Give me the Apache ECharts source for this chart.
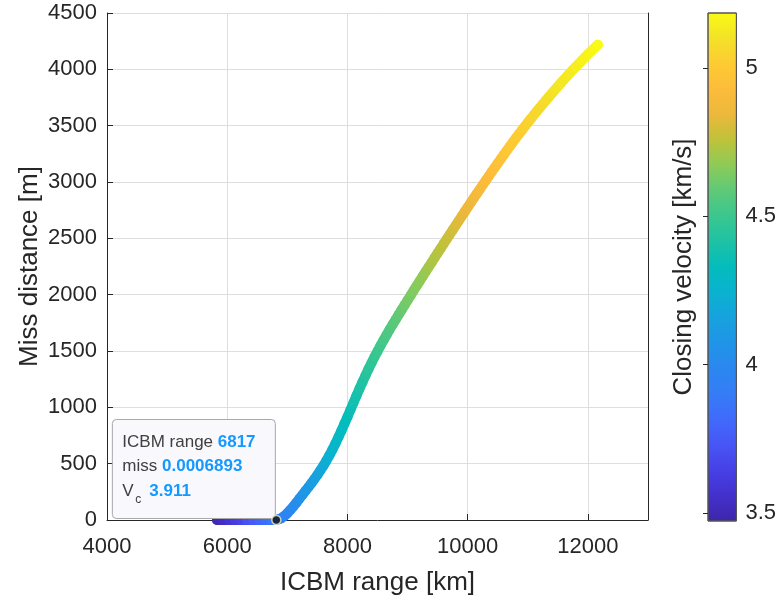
<!DOCTYPE html>
<html><head><meta charset="utf-8">
<script src="https://cdn.jsdelivr.net/npm/echarts@6/dist/echarts.min.js"></script>
<style>html,body{margin:0;padding:0;background:#fff}#c{width:779px;height:601px}</style>
</head><body><div id="c"></div>
<script>
// ICBM range [km]
const rangeKm = [5830,5930,6030,6130,6230,6330,6430,6530,6630,6730,6817,
6850,6900,6950,7000,7050,7100,7150,7200,7250,7300,7350,7400,7450,7500,7550,7600,7650,7700,7750,7800,7850,7900,7950,
8000,8050,8100,8150,8200,8250,8300,8350,8400,8450,8500,8550,8600,8650,8700,8750,8800,8850,8900,8950,
9000,9050,9100,9150,9200,9250,9300,9350,9400,9450,9500,9550,9600,9650,9700,9750,9800,9850,9900,9950,
10000,10050,10100,10150,10200,10250,10300,10350,10400,10450,10500,10550,10600,10650,10700,10750,10800,10850,10900,10950,
11000,11050,11100,11150,11200,11250,11300,11350,11400,11450,11500,11550,11600,11650,11700,11750,11800,11850,11900,11950,
12000,12050,12100,12150,12166];
// Miss distance [m]
const missM = [0,0,0,0,0,0,0,0,0,0,0.0006893,
4,15,35,60,89,120,153,188,222,257,291,326,363,400,441,482,527,574,625,678,735,793,854,
914,977,1040,1103,1164,1224,1283,1339,1394,1447,1497,1547,1595,1642,1688,1733,1777,1821,1864,1907,
1950,1992,2035,2077,2119,2161,2203,2245,2286,2327,2369,2410,2451,2492,2533,2573,2614,2654,2695,2735,
2775,2815,2855,2894,2934,2973,3012,3051,3090,3128,3166,3204,3241,3278,3315,3352,3388,3423,3458,3493,
3527,3561,3594,3627,3659,3691,3723,3755,3786,3817,3848,3878,3908,3937,3966,3995,4023,4051,4079,4106,
4133,4159,4185,4210,4218];
// Closing velocity [km/s]
const closingV = [3.50,3.54,3.58,3.62,3.66,3.71,3.75,3.79,3.83,3.87,3.911,
3.92,3.94,3.955,3.97,3.99,4.01,4.03,4.05,4.07,4.09,4.11,4.13,4.145,4.16,4.18,4.20,4.22,4.24,4.26,4.28,4.30,4.31,4.33,
4.34,4.36,4.38,4.39,4.41,4.42,4.44,4.455,4.47,4.485,4.50,4.515,4.53,4.54,4.555,4.57,4.58,4.59,4.605,4.62,
4.63,4.64,4.65,4.66,4.67,4.68,4.695,4.71,4.72,4.73,4.74,4.75,4.76,4.77,4.78,4.795,4.81,4.82,4.83,4.84,
4.85,4.86,4.875,4.89,4.90,4.91,4.92,4.93,4.94,4.95,4.96,4.97,4.98,4.99,5.0,5.005,5.01,5.02,5.025,5.03,
5.04,5.045,5.055,5.06,5.07,5.075,5.085,5.09,5.10,5.105,5.11,5.115,5.12,5.125,5.13,5.135,5.14,5.145,5.15,5.155,
5.16,5.165,5.17,5.175,5.18];

const cbTicks = [3.5, 4, 4.5, 5];
const cbMin = 3.4727, cbMax = 5.185;
const tipRange = 6817, tipMiss = 0.0006893, tipVc = 3.911;
const tipLabels = ['ICBM range ', 'miss ', 'V', 'c'];
const parula = ['#3e26a8','#4330cc','#4640e6','#4855f5','#406afb','#357cf7','#2b87f0','#2094e8','#17a2de','#0ab2d0',
'#04bcbd','#1ec2a5','#3ac78f','#5ec977','#8dcb58','#bfc23a','#ecb83c','#fdbc3b','#fdcb33','#f3e227','#f9fb15'];

const FONT = "'Liberation Sans', Arial, Helvetica, sans-serif";
const TXT = '#262626';
const GRIDC = '#dedede';

const chart = echarts.init(document.getElementById('c'), null, {renderer: 'canvas'});
const pts = rangeKm.map((x, i) => [x, missM[i], closingV[i]]);
const gradStops = parula.map((c, i) => ({offset: 1 - i / (parula.length - 1), color: c})).reverse();
const plain = v => String(v);

chart.setOption({
  backgroundColor: '#fff',
  animation: false,
  textStyle: {fontFamily: FONT},
  grid: [
    {left: 107, right: 131, top: 13, bottom: 81},
    {left: 708, width: 30, top: 13, bottom: 80}
  ],
  visualMap: {
    type: 'continuous', show: false, seriesIndex: 0, dimension: 2,
    min: cbMin, max: cbMax, inRange: {color: parula}
  },
  xAxis: [
    {
      gridIndex: 0, type: 'value', min: 4000, max: 13000, interval: 2000,
      axisLine: {show: true, onZero: false, lineStyle: {color: TXT, width: 1}},
      axisTick: {show: true, inside: true, length: 6, lineStyle: {color: TXT}},
      axisLabel: {fontSize: 22, color: TXT, margin: 16, fontFamily: FONT, showMaxLabel: false, formatter: plain},
      splitLine: {show: true, lineStyle: {color: GRIDC, width: 1}},
      name: 'ICBM range [km]', nameLocation: 'middle', nameGap: 50, nameMoveOverlap: false,
      nameTextStyle: {fontSize: 26, color: TXT, fontFamily: FONT}
    },
    {gridIndex: 1, type: 'value', min: 0, max: 1, show: false}
  ],
  yAxis: [
    {
      gridIndex: 0, type: 'value', min: 0, max: 4500, interval: 500,
      axisLine: {show: true, onZero: false, lineStyle: {color: TXT, width: 1}},
      axisTick: {show: true, inside: true, length: 6, lineStyle: {color: TXT}},
      axisLabel: {fontSize: 22, color: TXT, margin: 10, fontFamily: FONT, formatter: plain},
      splitLine: {show: true, lineStyle: {color: GRIDC, width: 1}},
      name: 'Miss distance [m]', nameLocation: 'middle', nameGap: 64, nameMoveOverlap: false,
      nameTextStyle: {fontSize: 26, color: TXT, fontFamily: FONT}
    },
    {
      gridIndex: 1, type: 'value', min: cbMin, max: cbMax, position: 'right', z: 10,
      axisLine: {show: false},
      axisTick: {show: true, inside: true, length: 5, customValues: cbTicks, lineStyle: {color: TXT}},
      axisLabel: {show: true, customValues: cbTicks, fontSize: 22, color: TXT, margin: 9, fontFamily: FONT,
        formatter: plain},
      splitLine: {show: false}
    },
    {
      gridIndex: 0, type: 'value', min: 0, max: 4500, interval: 500, position: 'right',
      axisLine: {show: true, onZero: false, lineStyle: {color: TXT, width: 1}},
      axisTick: {show: false}, axisLabel: {show: false}, splitLine: {show: false}
    },
    {
      gridIndex: 1, type: 'value', min: cbMin, max: cbMax, position: 'left',
      axisLine: {show: false}, axisTick: {show: false}, axisLabel: {show: false}, splitLine: {show: false},
      name: 'Closing velocity [km/s]', nameLocation: 'middle', nameGap: 11, nameMoveOverlap: false,
      nameTextStyle: {fontSize: 26, color: TXT, fontFamily: FONT}
    }
  ],
  series: [
    {
      type: 'scatter', xAxisIndex: 0, yAxisIndex: 0, data: pts,
      symbol: 'circle', symbolSize: 10, clip: false, z: 3,
      itemStyle: {opacity: 1}, emphasis: {disabled: true}
    },
    {
      type: 'scatter', xAxisIndex: 0, yAxisIndex: 0, data: [[tipRange, tipMiss]],
      symbol: 'circle', symbolSize: 9, clip: false, z: 100,
      itemStyle: {color: '#111', borderColor: '#f3efc8', borderWidth: 1.5}
    },
    {
      type: 'custom', xAxisIndex: 1, yAxisIndex: 1, data: [[0, cbMin]], z: 2,
      renderItem: function (params, api) {
        const a = api.coord([0, cbMax]);
        const b = api.coord([1, cbMin]);
        return {
          type: 'rect',
          shape: {x: a[0], y: a[1], width: b[0] - a[0], height: b[1] - a[1]},
          style: {fill: new echarts.graphic.LinearGradient(0, 0, 0, 1, gradStops), stroke: '#555', lineWidth: 1}
        };
      }
    }
  ]
});

// continuous band beneath the markers, coloured by the same colormap
const pxs = pts.map(d => chart.convertToPixel({gridIndex: 0}, [d[0], d[1]])[0]);
const x0 = pxs[0], x1 = pxs[pxs.length - 1];
const bandStops = pts.map((d, i) => ({
  offset: (pxs[i] - x0) / (x1 - x0),
  color: echarts.color.lerp((d[2] - cbMin) / (cbMax - cbMin), parula)
}));

// datatip box
const p = chart.convertToPixel({gridIndex: 0}, [tipRange, tipMiss]);
const bx = p[0] - 164, by = p[1] - 100.5;
const KEYC = '#404040', VALC = '#1499ff';
const opt2 = chart.getOption();
const seriesNext = opt2.series.slice();
seriesNext.push({
  type: 'line', xAxisIndex: 0, yAxisIndex: 0, data: pts.map(d => [d[0], d[1]]),
  showSymbol: false, symbol: 'none', silent: true, clip: false, z: 2.5, smooth: false,
  lineStyle: {width: 10, cap: 'round', join: 'round',
    color: new echarts.graphic.LinearGradient(x0, 0, x1, 0, bandStops, true)}
});
chart.setOption({
  series: seriesNext,
  graphic: [
    {type: 'rect', z: 50, shape: {x: bx, y: by, width: 163, height: 99, r: 4},
      style: {fill: '#f8f8fd', stroke: '#a8a8a8', lineWidth: 1}},
    {type: 'text', z: 51, x: bx + 10, y: by + 23, style: {
      text: '{k|' + tipLabels[0] + '}{v|' + tipRange + '}', textVerticalAlign: 'middle',
      rich: {k: {fontSize: 17, fontFamily: FONT, fill: KEYC, color: KEYC},
             v: {fontSize: 17, fontFamily: FONT, fontWeight: 'bold', fill: VALC, color: VALC}}}},
    {type: 'text', z: 51, x: bx + 10, y: by + 47, style: {
      text: '{k|' + tipLabels[1] + '}{v|' + tipMiss + '}', textVerticalAlign: 'middle',
      rich: {k: {fontSize: 17, fontFamily: FONT, fill: KEYC, color: KEYC},
             v: {fontSize: 17, fontFamily: FONT, fontWeight: 'bold', fill: VALC, color: VALC}}}},
    {type: 'text', z: 51, x: bx + 10, y: by + 72, style: {
      text: tipLabels[2], font: '17px ' + FONT, fill: KEYC, textVerticalAlign: 'middle'}},
    {type: 'text', z: 51, x: bx + 23, y: by + 80, style: {
      text: tipLabels[3], font: '12px ' + FONT, fill: KEYC, textVerticalAlign: 'middle'}},
    {type: 'text', z: 51, x: bx + 37, y: by + 72, style: {
      text: String(tipVc), font: 'bold 17px ' + FONT, fill: VALC, textVerticalAlign: 'middle'}}
  ]
});
</script>
</body></html>
